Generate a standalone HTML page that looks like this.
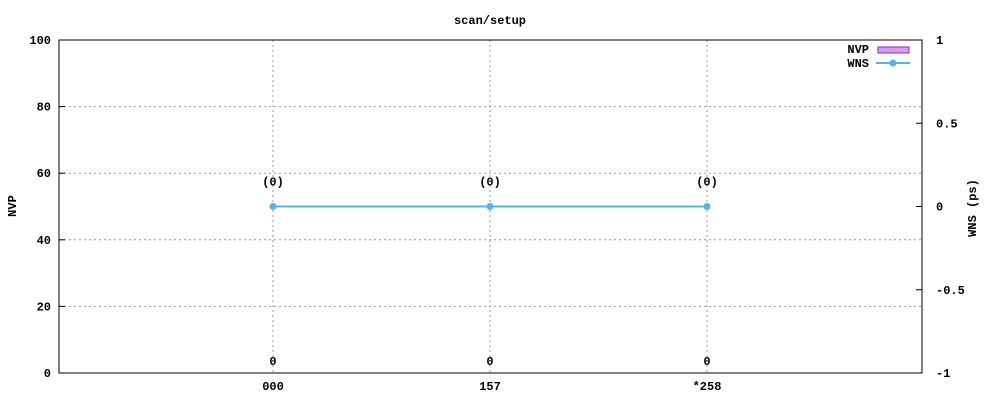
<!DOCTYPE html>
<html><head><meta charset="utf-8"><style>
body{margin:0;background:#fff}
text{font-family:"Liberation Mono",monospace;font-size:12px;font-weight:bold;fill:#000}
</style></head><body>
<svg id="c" width="1000" height="400"></svg>
<script>
const categories=["000","157","*258"];
const nvpValues=[0,0,0];
const wnsValues=[0,0,0];
const wnsLabels=["(0)","(0)","(0)"];
const yLeftTicks=[0,20,40,60,80,100];
const yRightTicks=[-1,-0.5,0,0.5,1];
const yRightLabels=["-1","-0.5","0","0.5","1"];
const L=59,R=922,T=40,B=373;
const xS=i=>L+(i+1)*217-3;
const yL=v=>B-(v/100)*(B-T);
const yR=v=>B-((v+1)/2)*(B-T);
const svg=document.getElementById('c');
const NS="http://www.w3.org/2000/svg";
function mk(tag,a,txt){const e=document.createElementNS(NS,tag);for(const k in a)e.setAttribute(k,a[k]);if(txt!==undefined)e.textContent=txt;svg.appendChild(e);return e;}
let e;
e=mk('text',{x:490,y:24,'text-anchor':'middle'},'scan/setup');


yLeftTicks.forEach(v=>{const y=yL(v);
 if(v>0&&v<100){e=mk('line',{x1:L,x2:R,y1:y,y2:y,stroke:'#999','stroke-dasharray':'2,3'});
 
 }
 mk('line',{x1:L,x2:L+6,y1:y,y2:y,stroke:'#000'});
 e=mk('text',{x:L-8,y:y+4,'text-anchor':'end'},String(v));
 
 });
yRightTicks.forEach((v,i)=>{const y=yR(v);
 mk('line',{x1:R-6,x2:R,y1:y,y2:y,stroke:'#000'});
 e=mk('text',{x:R+14,y:y+4},yRightLabels[i]);
 
 });
categories.forEach((c,i)=>{const x=xS(i);
 e=mk('line',{x1:x,x2:x,y1:T,y2:B,stroke:'#999','stroke-dasharray':'2,3'});
 
 
 e=mk('text',{x:x,y:390,'text-anchor':'middle'},c);
 
 
 const by=yL(nvpValues[i]);
 e=mk('rect',{x:x-20,y:by,width:40,height:B-by,fill:'#d89eea',stroke:'#8a2bb8'});
 
 
 e=mk('text',{x:x,y:by-8,'text-anchor':'middle'},String(nvpValues[i]));
 
 
 e=mk('text',{x:x,y:yR(wnsValues[i])-21,'text-anchor':'middle'},wnsLabels[i]);
 
 });
e=mk('rect',{x:L,y:T,width:R-L,height:B-T,fill:'none',stroke:'#000'});


e=mk('polyline',{points:wnsValues.map((v,i)=>xS(i)+','+yR(v)).join(' '),fill:'none',stroke:'#56b4e9','stroke-width':2});


wnsValues.forEach((v,i)=>{e=mk('circle',{cx:xS(i),cy:yR(v),r:3.5,fill:'#56b4e9'});
 
 });
e=mk('text',{x:16,y:206,'text-anchor':'middle',transform:'rotate(-90 16 206)'},'NVP');


e=mk('text',{x:976,y:208,'text-anchor':'middle',transform:'rotate(-90 976 208)'},'WNS (ps)');


e=mk('text',{x:869,y:53,'text-anchor':'end'},'NVP');


e=mk('rect',{x:878,y:47,width:31,height:6,fill:'#d89eea',stroke:'#8a2bb8'});


e=mk('text',{x:869,y:67,'text-anchor':'end'},'WNS');


e=mk('line',{x1:876,x2:910,y1:63,y2:63,stroke:'#56b4e9','stroke-width':2});


e=mk('circle',{cx:893,cy:63,r:3.5,fill:'#56b4e9'});


</script>
</body></html>
